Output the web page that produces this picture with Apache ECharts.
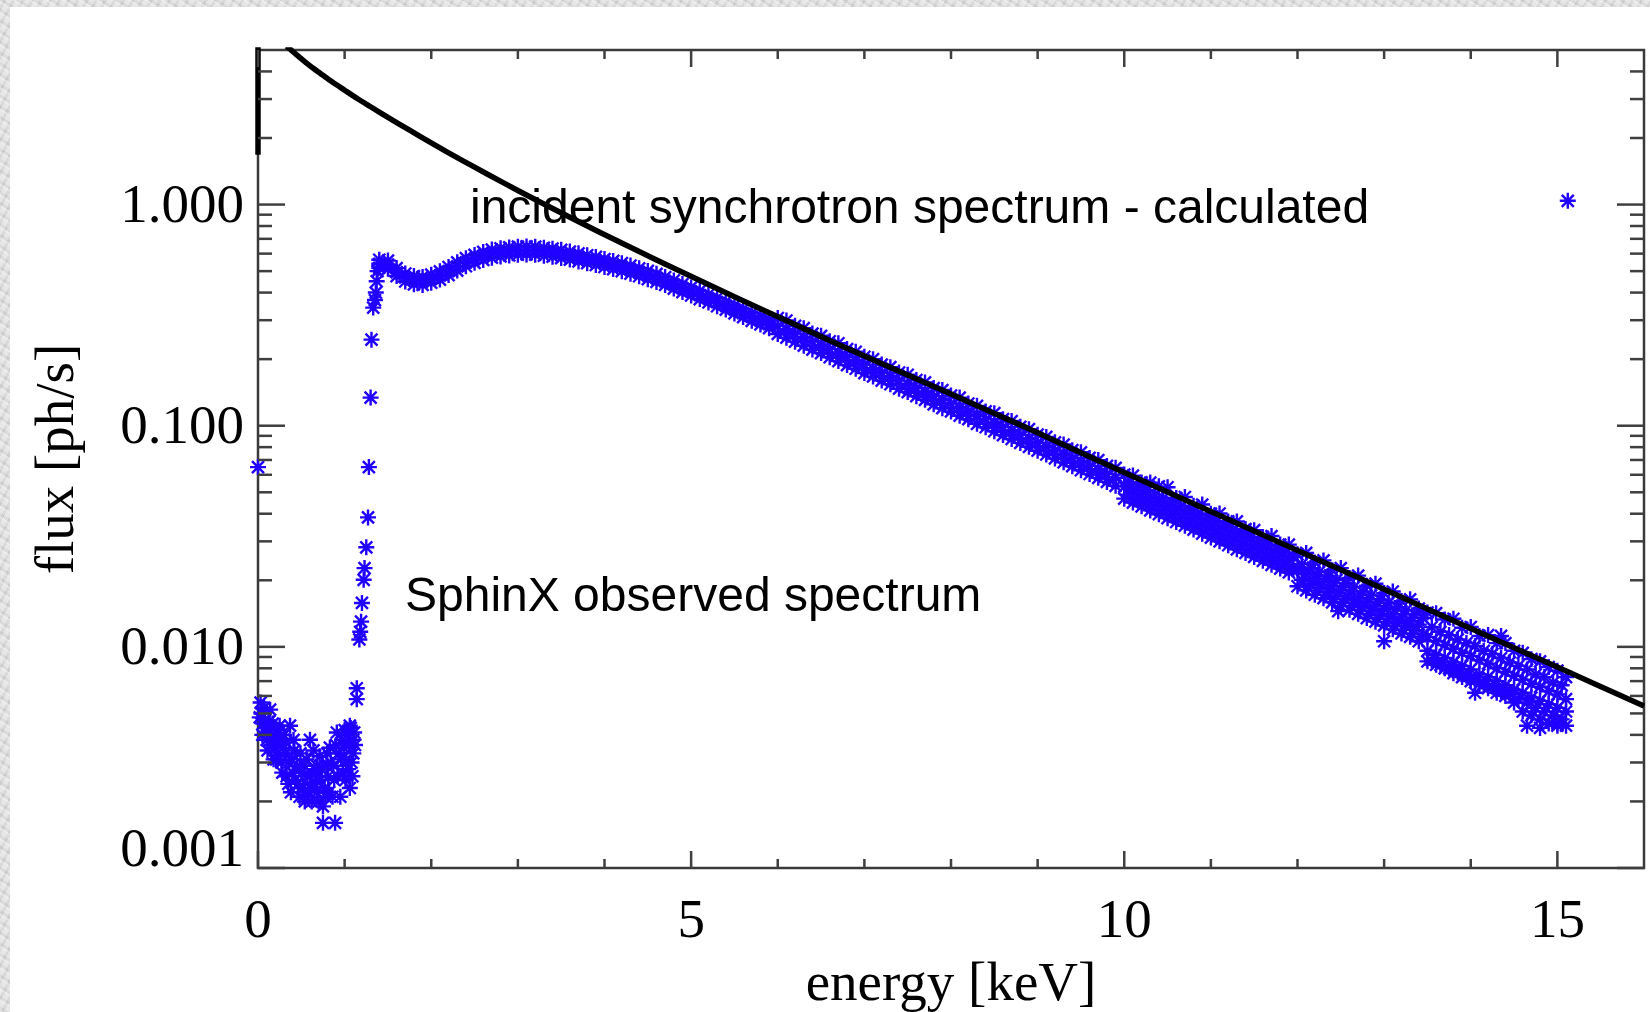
<!DOCTYPE html>
<html>
<head>
<meta charset="utf-8">
<script src="https://cdn.jsdelivr.net/npm/echarts@6/dist/echarts.min.js"></script>
<style>
  html, body { margin: 0; padding: 0; width: 1650px; height: 1012px; overflow: hidden; }
  body {
    background-color: #dcdcdc;
    background-image:
      repeating-linear-gradient(33deg, rgba(255,255,255,0.35) 0 2px, rgba(0,0,0,0.03) 2px 5px, rgba(255,255,255,0.15) 5px 9px),
      repeating-linear-gradient(-61deg, rgba(0,0,0,0.04) 0 3px, rgba(255,255,255,0.2) 3px 8px);
  }
  #panel { position: absolute; left: 10px; top: 7px; right: 0; bottom: 0; background: #ffffff; }
  #chart { position: absolute; left: 0; top: 0; width: 1650px; height: 1012px; }
</style>
</head>
<body>
<div id="panel"></div>
<div id="chart"></div>
<script>
// ---------------- data ----------------
// incident synchrotron spectrum - calculated (black curve)
const lineE    = [0.33, 0.38, 0.45, 0.55, 0.65, 0.75, 0.85, 1.0, 1.15, 1.3, 1.5, 1.75, 2.0, 2.33, 2.65, 3.0, 3.3, 3.64, 3.95, 4.4, 4.79, 5.5, 6.25, 7.0, 8.0, 8.85, 10, 11, 12, 13, 14, 15, 16];
const lineFlux = [5.21, 5.01, 4.74, 4.40, 4.10, 3.84, 3.60, 3.29, 3.01, 2.77, 2.48, 2.17, 1.901, 1.606, 1.371, 1.158, 1.006, 0.861, 0.748, 0.613, 0.518, 0.383, 0.2806, 0.2066, 0.139, 0.0988, 0.0614, 0.0409, 0.0273, 0.0182, 0.0121, 0.0081, 0.0054];
// short vertical stroke of the same curve at E = 0
const edgeE    = [0, 0];
const edgeFlux = [1.68, 1000];

// SphinX observed spectrum: low-energy cluster
const lowE    = [0.03,0.04,0.06,0.08,0.10,0.12,0.14,0.16,0.18,0.20,0.22,0.25,0.27,0.29,0.31,0.33,0.35,0.37,0.39,0.41,0.43,0.45,0.48,0.50,0.52,0.54,0.56,0.58,0.60,0.60,0.62,0.64,0.66,0.68,0.68,0.70,0.72,0.75,0.75,0.77,0.79,0.81,0.83,0.84,0.86,0.88,0.89,0.91,0.93,0.95,0.97,0.98,1.00,1.02,1.04,1.06,1.06,1.08,1.10,1.10,1.12];
const lowFlux = [0.0056,0.0050,0.0045,0.0047,0.0038,0.0042,0.0052,0.0036,0.0031,0.0035,0.0042,0.0044,0.0030,0.0035,0.0033,0.0026,0.0024,0.0044,0.0031,0.0038,0.0025,0.0029,0.0021,0.0027,0.0023,0.0020,0.0031,0.0022,0.0038,0.0026,0.0020,0.0034,0.0024,0.0022,0.0029,0.0020,0.0025,0.0019,0.0016,0.0023,0.0029,0.0026,0.0035,0.0030,0.0021,0.0025,0.0016,0.0041,0.0033,0.0021,0.0038,0.0027,0.0042,0.0031,0.0028,0.0044,0.0023,0.0030,0.0038,0.0033,0.0036];
const lowE2    = [0.02,0.05,0.07,0.09,0.11,0.13,0.15,0.17,0.19,0.21,0.23,0.26,0.28,0.30,0.32,0.36,0.38,0.40,0.42,0.46,0.49,0.53,0.57,0.61,0.65,0.69,0.71,0.74,0.78,0.80,0.82,0.87,0.90,0.92,0.96,0.99,1.01,1.03,1.05,1.07,1.09,1.11];
const lowFlux2 = [0.0048,0.0040,0.0053,0.0043,0.0034,0.0046,0.0040,0.0045,0.0039,0.0031,0.0036,0.0038,0.0027,0.0040,0.0037,0.0030,0.0022,0.0027,0.0034,0.0024,0.0033,0.0029,0.0026,0.0023,0.0028,0.0026,0.0032,0.0028,0.0021,0.0033,0.0022,0.0029,0.0036,0.0026,0.0031,0.0035,0.0025,0.0040,0.0036,0.0043,0.0026,0.0041];

// SphinX: steep rise near 1.2 keV
const riseE    = [1.14,1.14,1.17,1.18,1.19,1.20,1.22,1.23,1.25,1.27,1.28,1.30,1.31,1.33,1.35,1.36,1.37,1.38];
const riseFlux = [0.0065,0.0058,0.0108,0.0117,0.0130,0.0158,0.0201,0.0227,0.0282,0.0385,0.065,0.134,0.245,0.342,0.37,0.40,0.45,0.50];

// SphinX: main band (upper / middle / lower readings)
const bandE = [1.4,1.5,1.6,1.7,1.8,1.9,2.0,2.1,2.2,2.3,2.4,2.5,2.6,2.7,2.8,2.9,3.0,3.1,3.2,3.3,3.4,3.5,3.6,3.7,3.8,3.9,4.0,4.1,4.2,4.3,4.4,4.5,4.6,4.7,4.8,4.9,5.0,5.1,5.2,5.3,5.4,5.5,5.6,5.7,5.8,5.9,
  6.0,6.1,6.2,6.3,6.4,6.5,6.6,6.7,6.8,6.9,7.0,7.1,7.2,7.3,7.4,7.5,7.6,7.7,7.8,7.9,8.0,8.1,8.2,8.3,8.4,8.5,8.6,8.7,8.8,8.9,9.0,9.1,9.2,9.3,9.4,9.5,9.6,9.7,9.8,9.9,
  10.0,10.1,10.2,10.3,10.4,10.5,10.6,10.7,10.8,10.9,11.0,11.1,11.2,11.3,11.4,11.5,11.6,11.7,11.8,11.9,
  12.0,12.1,12.2,12.3,12.4,12.5,12.6,12.7,12.8,12.9,13.0,13.1,13.2,13.3,13.4,
  13.5,13.6,13.7,13.8,13.9,14.0,14.1,14.2,14.3,14.4,14.5,14.6,14.7,14.8,14.9,15.0,15.1];
const bandUpper = [0.563,0.558,0.516,0.488,0.475,0.471,0.482,0.499,0.522,0.548,0.572,0.592,0.611,0.626,0.634,0.640,0.645,0.647,0.645,0.638,0.632,0.624,0.613,0.602,0.590,0.580,0.567,0.556,0.543,0.530,0.515,0.501,0.486,0.470,0.454,0.437,0.422,0.407,0.392,0.378,0.364,0.350,0.337,0.324,0.312,0.300,
  0.307,0.299,0.283,0.276,0.261,0.255,0.241,0.236,0.222,0.216,0.205,0.200,0.189,0.184,0.174,0.170,0.161,0.157,0.148,0.145,0.137,0.134,0.126,0.123,0.116,0.114,0.107,0.105,0.0988,0.0965,0.0911,0.0890,0.0841,0.0822,0.0775,0.0758,0.0715,0.0699,0.0658,0.0645,
  0.0601,0.0595,0.0554,0.0553,0.0532,0.0527,0.0471,0.0476,0.0435,0.0440,0.0400,0.0401,0.0369,0.0369,0.0341,0.0337,0.0314,0.0317,0.0290,0.0290,
  0.0262,0.0266,0.0241,0.0246,0.0222,0.0227,0.0205,0.0210,0.0189,0.0193,0.0175,0.0178,0.0161,0.0164,0.0149,
  0.0143,0.0142,0.0133,0.0134,0.0122,0.0123,0.0112,0.0113,0.0104,0.0104,0.0096,0.0094,0.0088,0.0086,0.0081,0.0078,0.0073];
const bandMid = [0.540,0.535,0.495,0.468,0.455,0.452,0.462,0.478,0.500,0.525,0.548,0.568,0.586,0.600,0.608,0.614,0.618,0.620,0.618,0.612,0.606,0.598,0.588,0.577,0.566,0.556,0.544,0.533,0.521,0.508,0.494,0.480,0.466,0.451,0.435,0.419,0.405,0.390,0.376,0.362,0.349,0.336,0.323,0.311,0.299,0.288,
  0.283,0.272,0.261,0.251,0.241,0.231,0.222,0.213,0.205,0.196,0.189,0.181,0.174,0.167,0.160,0.154,0.148,0.142,0.136,0.131,0.126,0.121,0.116,0.111,0.107,0.103,0.0986,0.0947,0.0909,0.0873,0.0838,0.0805,0.0773,0.0742,0.0713,0.0684,0.0658,0.0631,0.0606,0.0582,
  0.0531,0.0509,0.0490,0.0470,0.0452,0.0433,0.0416,0.0400,0.0384,0.0368,0.0354,0.0340,0.0326,0.0313,0.0301,0.0289,0.0278,0.0266,0.0256,0.0246,
  0.0222,0.0213,0.0204,0.0196,0.0188,0.0181,0.0174,0.0166,0.0160,0.0153,0.0148,0.0141,0.0136,0.0131,0.0126,
  0.0111,0.0106,0.0102,0.0098,0.0094,0.0091,0.0087,0.0084,0.0080,0.0077,0.0074,0.0071,0.0068,0.0066,0.0063,0.0061,0.0058];
const bandLower = [0.518,0.513,0.475,0.449,0.436,0.433,0.443,0.458,0.480,0.503,0.526,0.545,0.562,0.575,0.583,0.589,0.593,0.595,0.593,0.587,0.581,0.573,0.564,0.553,0.543,0.533,0.522,0.511,0.500,0.487,0.474,0.460,0.447,0.433,0.417,0.402,0.388,0.374,0.361,0.347,0.335,0.322,0.310,0.298,0.287,0.276,
  0.260,0.250,0.240,0.230,0.221,0.213,0.204,0.196,0.188,0.181,0.173,0.167,0.160,0.154,0.147,0.142,0.136,0.131,0.125,0.120,0.116,0.111,0.107,0.102,0.0984,0.0944,0.0907,0.0871,0.0836,0.0803,0.0771,0.0741,0.0711,0.0683,0.0656,0.0629,0.0605,0.0581,0.0557,0.0535,
  0.0468,0.0449,0.0432,0.0414,0.0398,0.0382,0.0367,0.0353,0.0339,0.0325,0.0312,0.0300,0.0288,0.0276,0.0266,0.0255,0.0245,0.0235,0.0226,0.0217,
  0.0188,0.0180,0.0172,0.0166,0.0159,0.0153,0.0147,0.0141,0.0135,0.0130,0.0125,0.0120,0.0115,0.0111,0.0106,
  0.0086,0.0083,0.0080,0.0076,0.0073,0.0070,0.0068,0.0065,0.0062,0.0060,0.0056,0.0051,0.0049,0.0047,0.0045,0.0044,0.0044];
// in-between readings of the wide high-energy part of the band
const fillE = [10.05,10.15,10.25,10.35,10.45,10.55,10.65,10.75,10.85,10.95,11.05,11.15,11.25,11.35,11.45,11.55,11.65,11.75,11.85,11.95,
  12.05,12.15,12.25,12.35,12.45,12.55,12.65,12.75,12.85,12.95,13.05,13.15,13.25,13.35,13.45,
  13.55,13.65,13.75,13.85,13.95,14.05,14.15,14.25,14.35,14.45,14.55,14.65,14.75,14.85,14.95,15.05];
const fillHigh = [0.0554,0.0531,0.0511,0.0489,0.0471,0.0452,0.0433,0.0417,0.0400,0.0384,0.0369,0.0354,0.0339,0.0327,0.0314,0.0301,0.0290,0.0278,0.0267,0.0256,
  0.0237,0.0227,0.0218,0.0209,0.0201,0.0194,0.0186,0.0178,0.0171,0.0164,0.0158,0.0151,0.0146,0.0140,0.0135,
  0.0123,0.0117,0.0113,0.0108,0.0104,0.0101,0.0096,0.0093,0.0089,0.0085,0.0082,0.0079,0.0075,0.0073,0.0069,0.0067];
const fillLow = [0.0488,0.0467,0.0450,0.0431,0.0415,0.0398,0.0382,0.0367,0.0352,0.0338,0.0325,0.0312,0.0299,0.0288,0.0276,0.0265,0.0255,0.0245,0.0235,0.0225,
  0.0201,0.0193,0.0185,0.0177,0.0170,0.0164,0.0158,0.0151,0.0145,0.0139,0.0134,0.0128,0.0124,0.0119,0.0114,
  0.0087,0.0083,0.0080,0.0077,0.0074,0.0071,0.0068,0.0066,0.0063,0.0061,0.0058,0.0056,0.0053,0.0051,0.0049,0.0047];
const tailE    = [13.5,13.6,13.7,13.8,13.9,14.0,14.1,14.2,14.3,14.4,14.5,14.6,14.7,14.8,14.9,15.0,15.1];
const tailFlux = [0.0096,0.0092,0.0089,0.0085,0.0082,0.0079,0.0075,0.0073,0.0070,0.0067,0.0064,0.0062,0.0059,0.0057,0.0055,0.0053,0.0051];
// isolated points
const extraE    = [0, 12.47, 13.0, 14.05, 14.35, 14.65, 14.8, 15.0, 15.12];
const extraFlux = [0.065, 0.0145, 0.0106, 0.0062, 0.0112, 0.0044, 0.0043, 0.0045, 1.04];

// axes
const xMajorTicks = [0, 5, 10, 15];
const xTickLabels = ['0', '5', '10', '15'];
const xMinorTicks = [1, 2, 3, 4, 6, 7, 8, 9, 11, 12, 13, 14];
const yMajorTicks = [0.001, 0.01, 0.1, 1];
const yTickLabels = ['0.001', '0.010', '0.100', '1.000'];
const yMinorTicks = [0.002,0.003,0.004,0.005,0.006,0.007,0.008,0.009,0.02,0.03,0.04,0.05,0.06,0.07,0.08,0.09,0.2,0.3,0.4,0.5,0.6,0.7,0.8,0.9,2,3,4];

// ---------------- build ----------------
function zip(a, b) { return a.map((v, i) => [v, b[i]]); }
const sphinx = [].concat(
  zip(lowE, lowFlux), zip(lowE2, lowFlux2), zip(riseE, riseFlux),
  zip(bandE, bandLower), zip(fillE, fillLow), zip(tailE, tailFlux), zip(bandE, bandMid),
  zip(fillE, fillHigh), zip(bandE, bandUpper), zip(extraE, extraFlux)
);
const synchro = zip(lineE, lineFlux);
const synchroEdge = zip(edgeE, edgeFlux);

const tickData = [];
xMajorTicks.forEach(v => tickData.push([v, 1, 0]));
xMinorTicks.forEach(v => tickData.push([v, 1, 1]));
yMajorTicks.forEach(v => tickData.push([1, v, 2]));
yMinorTicks.forEach(v => tickData.push([1, v, 3]));

const TICK_COLOR = '#3f3f3f';
function seg(x1, y1, x2, y2) {
  return { type: 'line', shape: { x1, y1, x2, y2 }, style: { stroke: TICK_COLOR, lineWidth: 2.5 } };
}
function renderTick(params, api) {
  const cs = params.coordSys;
  const kind = api.value(2);
  const left = cs.x, right = cs.x + cs.width, top = cs.y, bottom = cs.y + cs.height;
  if (kind < 2) {
    const px = api.coord([api.value(0), 1])[0];
    const len = kind === 0 ? 17 : 9;
    return { type: 'group', children: [seg(px, bottom, px, bottom - len), seg(px, top, px, top + len)] };
  }
  const py = api.coord([1, api.value(1)])[1];
  const len = kind === 2 ? 27 : 14;
  return { type: 'group', children: [seg(left, py, left + len, py), seg(right, py, right - len, py)] };
}

const SERIF = '"Liberation Serif", "Times New Roman", serif';
const SANS = '"Liberation Sans", Arial, Helvetica, sans-serif';
const ASTERISK = 'path://M0,-10L0,10M-10,0L10,0M-7.5,-7.5L7.5,7.5M-7.5,7.5L7.5,-7.5';

function xLabel(v) {
  for (let i = 0; i < xMajorTicks.length; i++) if (Math.abs(v - xMajorTicks[i]) < 1e-6) return xTickLabels[i];
  return '';
}
function yLabel(v) {
  for (let i = 0; i < yMajorTicks.length; i++) {
    if (Math.abs(Math.log10(v) - Math.log10(yMajorTicks[i])) < 1e-6) {
      return (i === 0 ? '{lo|' : '{n|') + yTickLabels[i] + '}';
    }
  }
  return '';
}
const labelFont = { fontFamily: SERIF, fontSize: 55, color: '#000' };

const chart = echarts.init(document.getElementById('chart'), null, { renderer: 'canvas' });
chart.setOption({
  animation: false,
  backgroundColor: 'transparent',
  grid: { left: 258, top: 50, right: 6, bottom: 144, containLabel: false, outerBoundsMode: 'none',
          show: true, borderColor: '#3a3a3a', borderWidth: 2.5, backgroundColor: 'transparent' },
  xAxis: {
    type: 'value', min: 0, max: 16, interval: 5,
    name: 'energy [keV]', nameLocation: 'middle', nameGap: 90,
    nameTextStyle: labelFont,
    axisLine: { show: false }, axisTick: { show: false }, splitLine: { show: false },
    axisLabel: Object.assign({ margin: 27, formatter: xLabel }, labelFont)
  },
  yAxis: {
    type: 'log', logBase: 10, min: 0.001, max: 5,
    name: 'flux [ph/s]', nameLocation: 'middle', nameGap: 172,
    nameTextStyle: labelFont,
    axisLine: { show: false }, axisTick: { show: false }, splitLine: { show: false },
    axisLabel: Object.assign({
      margin: 14, formatter: yLabel,
      rich: {
        n:  Object.assign({ padding: [5, 0, 0, 0] }, labelFont),
        lo: Object.assign({ padding: [0, 0, 32, 0] }, labelFont)
      }
    }, labelFont)
  },
  series: [
    {
      type: 'scatter', name: 'SphinX observed spectrum', data: sphinx,
      symbol: ASTERISK, symbolSize: 16,
      itemStyle: { color: 'rgba(0,0,0,0)', borderColor: '#2000ff', borderWidth: 2.4, opacity: 1 },
      z: 2
    },
    {
      type: 'line', name: 'incident synchrotron spectrum - calculated', data: synchro,
      showSymbol: false, symbol: 'none', clip: true, smooth: 0.3,
      lineStyle: { color: '#000000', width: 5.5 },
      z: 3
    },
    {
      type: 'line', name: 'edge', data: synchroEdge,
      showSymbol: false, symbol: 'none', clip: true,
      lineStyle: { color: '#000000', width: 5.5 },
      z: 3
    },
    {
      type: 'custom', data: tickData, renderItem: renderTick,
      encode: { x: 0, y: 1 }, z: 4, silent: true
    }
  ],
  graphic: [
    { type: 'text', x: 470, y: 210, z: 10,
      style: { text: 'incident synchrotron spectrum - calculated', fill: '#000', font: '48px ' + SANS,
               textAlign: 'left', textVerticalAlign: 'middle', align: 'left', verticalAlign: 'middle' } },
    { type: 'text', x: 405, y: 598, z: 10,
      style: { text: 'SphinX observed spectrum', fill: '#000', font: '48px ' + SANS,
               textAlign: 'left', textVerticalAlign: 'middle', align: 'left', verticalAlign: 'middle' } }
  ]
});
</script>
</body>
</html>
